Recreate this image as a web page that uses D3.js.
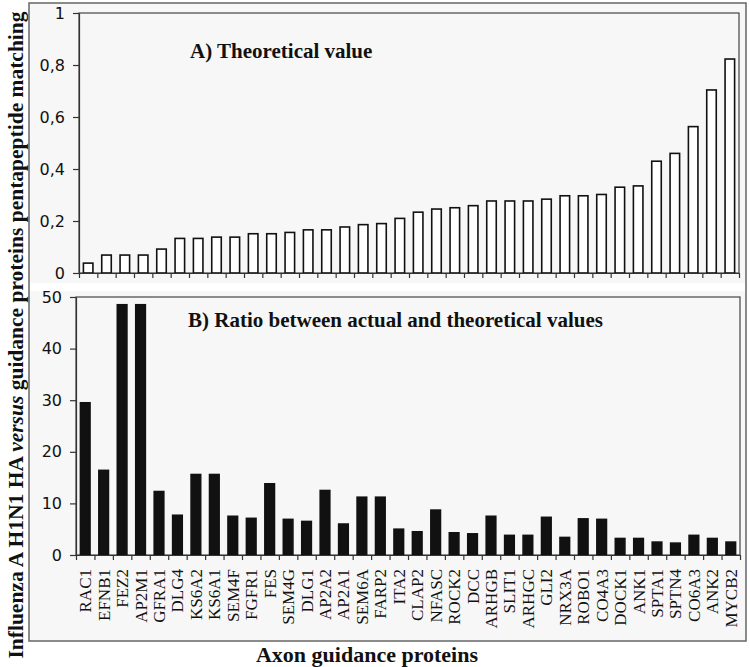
<!DOCTYPE html>
<html>
<head>
<meta charset="utf-8">
<script src="https://cdn.jsdelivr.net/npm/d3@7"></script>
<style>
  body { margin: 0; background: #fff; }
  svg { display: block; }
</style>
</head>
<body>
<script>
const proteins = ["RAC1", "EFNB1", "FEZ2", "AP2M1", "GFRA1", "DLG4", "KS6A2", "KS6A1", "SEM4F", "FGFR1",
  "FES", "SEM4G", "DLG1", "AP2A2", "AP2A1", "SEM6A", "FARP2", "ITA2", "CLAP2", "NFASC",
  "ROCK2", "DCC", "ARHGB", "SLIT1", "ARHGC", "GLI2", "NRX3A", "ROBO1", "CO4A3", "DOCK1",
  "ANK1", "SPTA1", "SPTN4", "CO6A3", "ANK2", "MYCB2"];

// A) theoretical value
const theoretical = [0.038, 0.069, 0.069, 0.069, 0.092, 0.133, 0.133, 0.138, 0.138, 0.151,
  0.151, 0.156, 0.166, 0.166, 0.177, 0.186, 0.19, 0.21, 0.234, 0.246,
  0.251, 0.259, 0.277, 0.277, 0.277, 0.284, 0.297, 0.297, 0.302, 0.33,
  0.335, 0.43, 0.46, 0.563, 0.704, 0.823];

// B) ratio between actual and theoretical
const ratio = [29.5, 16.4, 48.5, 48.5, 12.3, 7.7, 15.6, 15.6, 7.5, 7.1,
  13.8, 6.9, 6.5, 12.5, 6.0, 11.2, 11.2, 5.0, 4.5, 8.7,
  4.3, 4.1, 7.5, 3.8, 3.8, 7.3, 3.4, 7.0, 6.9, 3.2,
  3.2, 2.5, 2.3, 3.8, 3.2, 2.5];

const topTicks = [0, 0.2, 0.4, 0.6, 0.8, 1];
const bottomTicks = [0, 10, 20, 30, 40, 50];

const width = 750, height = 667;
const svg = d3.select('body').append('svg')
  .attr('width', width)
  .attr('height', height);

// outer frame and white gap between panels
svg.append('rect').attr('x', 29).attr('y', 3).attr('width', 717).attr('height', 638)
  .attr('fill', '#f7f7f7');
svg.append('rect').attr('x', 29).attr('y', 283).attr('width', 717).attr('height', 8)
  .attr('fill', '#fff');
svg.append('rect').attr('x', 29).attr('y', 3).attr('width', 717).attr('height', 638)
  .attr('fill', 'none').attr('stroke', '#666').attr('stroke-width', 1.5);

function panel(opts) {
  const { left, right, top, bottom, values, maxY, ticks, fmt, fill, title, titleX, titleY, labels } = opts;

  const x = d3.scaleBand().domain(proteins).range([left, right]).paddingInner(0.48).paddingOuter(0.24);
  const xEdge = d3.scaleLinear().domain([0, proteins.length]).range([left, right]);
  const y = d3.scaleLinear().domain([0, maxY]).range([bottom, top]);

  // plot frame
  svg.append('rect')
    .attr('x', left).attr('y', top)
    .attr('width', right - left).attr('height', bottom - top)
    .attr('fill', 'none').attr('stroke', '#444').attr('stroke-width', 1.2);

  svg.append('g').selectAll('rect')
    .data(values)
    .enter()
    .append('rect')
    .attr('x', (d, i) => x(proteins[i]))
    .attr('y', d => y(d))
    .attr('width', x.bandwidth())
    .attr('height', d => bottom - y(d))
    .attr('fill', fill)
    .attr('stroke', '#111')
    .attr('stroke-width', 1.6);

  // y axis
  const yAxis = svg.append('g')
    .attr('transform', `translate(${left},0)`)
    .call(d3.axisLeft(y).tickValues(ticks).tickFormat(fmt).tickSize(6).tickPadding(8).tickSizeOuter(0));
  yAxis.select('.domain').attr('stroke', '#333').attr('stroke-width', 1.2);
  yAxis.selectAll('.tick line').attr('stroke', '#333').attr('stroke-width', 1.2);
  yAxis.selectAll('text')
    .attr('font-family', 'DejaVu Sans')
    .attr('font-size', 16)
    .attr('fill', '#111');

  // x axis ticks between categories
  const xAxis = svg.append('g')
    .attr('transform', `translate(0,${bottom})`)
    .call(d3.axisBottom(xEdge).tickValues(d3.range(proteins.length + 1)).tickFormat('').tickSize(5).tickSizeOuter(0));
  xAxis.select('.domain').attr('stroke', '#333').attr('stroke-width', 1.2);
  xAxis.selectAll('.tick line').attr('stroke', '#333').attr('stroke-width', 1.2);

  if (labels) {
    const lab = svg.append('g')
      .attr('transform', `translate(0,${bottom})`)
      .call(d3.axisBottom(x).tickSize(0).tickPadding(0));
    lab.select('.domain').remove();
    lab.selectAll('text')
      .attr('font-family', 'Liberation Serif')
      .attr('font-size', 17)
      .attr('fill', '#111')
      .attr('text-anchor', 'end')
      .attr('dy', '0.35em')
      .attr('transform', 'translate(0,14) rotate(-90)')
      .attr('x', 0).attr('y', 0);
  }

  svg.append('text')
    .attr('x', titleX).attr('y', titleY)
    .attr('font-family', 'Liberation Serif')
    .attr('font-weight', 'bold')
    .attr('font-size', 21)
    .attr('fill', '#111')
    .text(title);
}

const commaFmt = d => d === 0 || d === 1 ? String(d) : String(d).replace('.', ',');

panel({
  left: 79, right: 739, top: 13, bottom: 273,
  values: theoretical, maxY: 1, ticks: topTicks, fmt: commaFmt,
  fill: '#fff', title: 'A) Theoretical value', titleX: 190, titleY: 58, labels: false
});

panel({
  left: 76, right: 740, top: 297, bottom: 555,
  values: ratio, maxY: 50, ticks: bottomTicks, fmt: d => d,
  fill: '#111', title: 'B) Ratio between actual and theoretical values', titleX: 188, titleY: 327, labels: true
});

// axis titles
const yTitle = svg.append('text')
  .attr('transform', 'translate(23,335) rotate(-90)')
  .attr('text-anchor', 'middle')
  .attr('font-family', 'Liberation Serif')
  .attr('font-weight', 'bold')
  .attr('font-size', 21.5)
  .attr('fill', '#111');
yTitle.append('tspan').text('Influenza A H1N1 HA ');
yTitle.append('tspan').attr('font-style', 'italic').text('versus');
yTitle.append('tspan').text(' guidance proteins pentapeptide matching');

svg.append('text')
  .attr('x', 367).attr('y', 662)
  .attr('text-anchor', 'middle')
  .attr('font-family', 'Liberation Serif')
  .attr('font-weight', 'bold')
  .attr('font-size', 22)
  .attr('fill', '#111')
  .text('Axon guidance proteins');
</script>
</body>
</html>
